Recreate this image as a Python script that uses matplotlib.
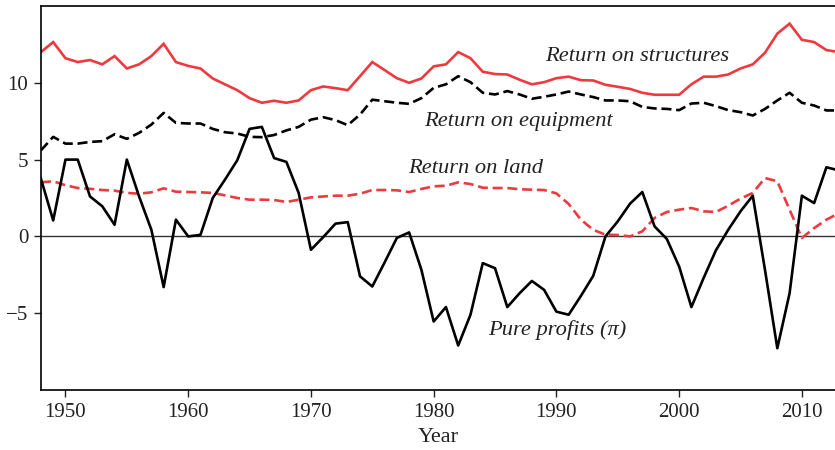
import numpy as np
import matplotlib.pyplot as plt

plt.rcParams['font.family'] = ['Liberation Serif', 'DejaVu Serif']

# Data (percent)
years = np.arange(1948, 2014)

structures = [12.0, 12.65, 11.6, 11.35, 11.48, 11.2, 11.74, 10.93, 11.2, 11.74,
              12.54, 11.35, 11.1, 10.93, 10.28, 9.9, 9.52, 9.0, 8.7, 8.83,
              8.7, 8.85, 9.52, 9.76, 9.65, 9.52, 10.43, 11.35, 10.83, 10.3,
              10.0, 10.28, 11.07, 11.2, 12.0, 11.6, 10.72, 10.57, 10.54, 10.2,
              9.9, 10.04, 10.3, 10.4, 10.17, 10.15, 9.87, 9.74, 9.6, 9.35,
              9.22, 9.22, 9.22, 9.9, 10.4, 10.4, 10.54, 10.93, 11.2, 11.96,
              13.2, 13.85, 12.8, 12.65, 12.13, 12.0]

equipment = [5.6, 6.48, 6.04, 6.04, 6.15, 6.2, 6.65, 6.35, 6.74, 7.28,
             8.04, 7.39, 7.35, 7.35, 7.0, 6.78, 6.7, 6.48, 6.46, 6.6,
             6.9, 7.13, 7.6, 7.76, 7.57, 7.24, 7.93, 8.9, 8.8, 8.7,
             8.63, 9.0, 9.67, 9.9, 10.43, 10.04, 9.35, 9.24, 9.46, 9.24,
             8.96, 9.09, 9.24, 9.43, 9.24, 9.07, 8.85, 8.85, 8.8, 8.43,
             8.33, 8.3, 8.22, 8.65, 8.7, 8.48, 8.22, 8.09, 7.87, 8.3,
             8.85, 9.35, 8.7, 8.52, 8.2, 8.2]

land = [3.52, 3.59, 3.33, 3.15, 3.1, 3.02, 2.98, 2.83, 2.78, 2.87,
        3.13, 2.91, 2.89, 2.87, 2.83, 2.67, 2.5, 2.39, 2.39, 2.37,
        2.24, 2.39, 2.54, 2.6, 2.65, 2.65, 2.78, 3.02, 3.02, 3.0,
        2.89, 3.09, 3.26, 3.3, 3.52, 3.41, 3.17, 3.15, 3.15, 3.07,
        3.04, 3.02, 2.8, 2.11, 1.09, 0.43, 0.11, 0.09, 0.0, 0.33,
        1.2, 1.59, 1.74, 1.85, 1.63, 1.59, 2.0, 2.46, 2.83, 3.8,
        3.59, 1.74, -0.1, 0.54, 1.09, 1.5]

profits = [3.76, 1.04, 5.0, 5.0, 2.6, 1.96, 0.76, 5.0, 2.6, 0.43,
           -3.3, 1.09, 0.0, 0.1, 2.5, 3.7, 4.96, 7.0, 7.13, 5.1,
           4.85, 2.83, -0.87, -0.05, 0.83, 0.93, -2.6, -3.26, -1.7, -0.1,
           0.26, -2.17, -5.54, -4.6, -7.1, -5.1, -1.74, -2.07, -4.6, -3.7,
           -2.9, -3.48, -4.9, -5.1, -3.87, -2.57, 0.0, 0.98, 2.13, 2.89,
           0.65, -0.17, -1.96, -4.6, -2.7, -0.9, 0.43, 1.63, 2.65, -2.2,
           -7.28, -3.7, 2.65, 2.17, 4.5, 4.3]

RED = '#ee3a3e'

fig = plt.figure(figsize=(8.35, 4.5), dpi=100)
ax = fig.add_axes([0.049, 0.1333, 0.951, 0.8534])

ax.axhline(0, color='#333333', lw=1.0, zorder=1)
ax.plot(years, structures, color=RED, lw=1.9, solid_joinstyle='miter')
ax.plot(years, equipment, color='black', lw=1.9, dashes=(3.8, 1.8))
ax.plot(years, land, color=RED, lw=1.9, dashes=(3.8, 1.8))
ax.plot(years, profits, color='black', lw=1.9)

# Series labels
lab = dict(fontsize=16.2, style='italic', color='#222222', ha='center', va='center')
ax.text(1996.6, 11.7, 'Return on structures', **lab)
ax.text(1986.9, 7.5, 'Return on equipment', **lab)
ax.text(1983.4, 4.4, 'Return on land', **lab)
ax.text(1990.1, -6.1, 'Pure profits (\u03c0)', **lab)

ax.set_xlim(1948, 2012.7)
ax.set_ylim(-10, 15)
ax.set_xticks([1950, 1960, 1970, 1980, 1990, 2000, 2010])
ax.set_yticks([-5, 0, 5, 10])
ax.set_yticklabels(['\u22125', '0', '5', '10'])
ax.tick_params(direction='out', length=5, width=1, labelsize=15,
               colors='#222222', pad=4)
ax.spines['right'].set_visible(False)
for s in ['left', 'top', 'bottom']:
    ax.spines[s].set_linewidth(1.2)
ax.set_xlabel('Year', fontsize=16, color='#222222', labelpad=5)

fig.savefig('out.png', dpi=100)
